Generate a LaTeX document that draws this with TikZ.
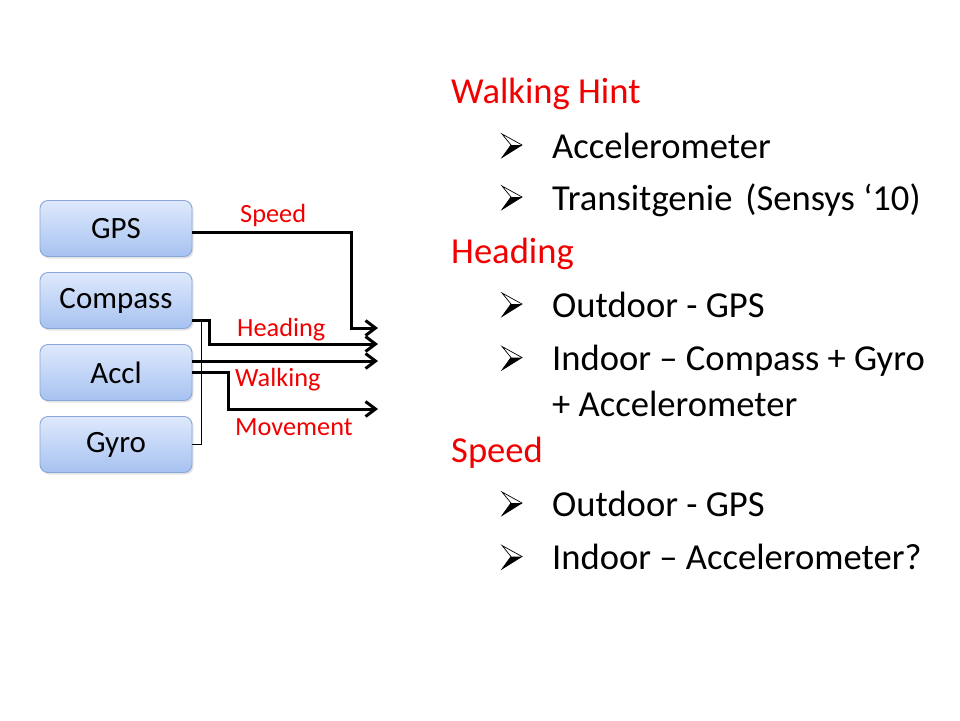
\documentclass[tikz,border=0pt]{standalone}
\usepackage{fontspec}
\setmainfont{Carlito}
\usetikzlibrary{arrows.meta,shadows}
\definecolor{boxtop}{HTML}{DFE9FC}
\definecolor{boxbot}{HTML}{A6C2F1}
\definecolor{boxline}{HTML}{8AA6DA}
\definecolor{hdred}{HTML}{F00000}
\tikzset{
  sensor/.style={draw=boxline, line width=0.9pt, rounded corners=8pt,
    top color=boxtop, bottom color=boxbot, minimum width=152pt,
    minimum height=56pt, inner sep=0pt, font=\fontsize{31}{36}\selectfont,
    drop shadow={opacity=0.22, shadow xshift=1.5pt, shadow yshift=-2pt}},
  conn/.style={line width=3pt, -{Straight Barb[length=10pt,width=15pt]}},
  thinconn/.style={line width=1pt},
  lbl/.style={anchor=base west, inner sep=0pt, text=hdred, font=\fontsize{26.3}{30}\selectfont},
  hd/.style={anchor=base west, inner sep=0pt, text=hdred, font=\fontsize{36.6}{42}\selectfont},
  itm/.style={anchor=base west, inner sep=0pt, font=\fontsize{36.6}{42}\selectfont},
  bulletarrow/.pic={
    \fill[white] (0,-24) -- (20,-13) -- (9,-13) -- cycle;
    \fill[black] (0,-0.5) -- (20,-13) -- (9,-13) -- cycle;
    \draw[line width=0.7pt, line join=miter] (0,-24) -- (20,-13) -- (0,-0.5) -- (9,-13) -- cycle;
  }
}
\begin{document}
\begin{tikzpicture}[x=1pt,y=-1pt]
\path[use as bounding box, fill=white] (0,0) rectangle (960,720);

% sensor boxes
\node[sensor] (gps)  at (116,228.5) {GPS};
\node[sensor] (comp) at (116,300.5) {Compass};
\node[sensor] (accl) at (116,372.5) {Accl};
\node[sensor] (gyro) at (116,444.5) {Gyro};

% arrow ends
\coordinate (e1) at (378,328);
\coordinate (e2) at (378,344);
\coordinate (e3) at (378,361);
\coordinate (e4) at (378,409);

% connectors
\draw[thinconn] (gyro.east) -- ++(9,0) -- ++(0,-124.5);
\draw[conn] ([yshift=-3.5pt]gps.east) -- ++(159,0) |- (e1);
\draw[conn] ([yshift=-19.5pt]comp.east) -- ++(17,0) |- (e2);
\draw[conn] ([yshift=11.5pt]accl.east) -- (e3);
\draw[conn] (accl.east) -- ++(36,0) |- (e4);

% connector labels
\node[lbl] (lspeed) at (240,222) {Speed};
\node[lbl] (lhead)  at (237,336) {Heading};
\node[lbl] (lwalk)  at (235,386) {Walking};
\node[lbl] (lmove)  at (235,435) {Movement};

% right-hand text
\node[hd] (h1) at (451,103) {Walking Hint};
\pic at (502,158) {bulletarrow};
\node[itm] (t1) at (552,158) {Accelerometer};
\pic at (502,210) {bulletarrow};
\node[itm] (t2) at (552,210) {Transitgenie\hspace{13pt}(Sensys ‘10)};

\node[hd] (h2) at (451,263) {Heading};
\pic at (502,317) {bulletarrow};
\node[itm] (t3) at (552,317) {Outdoor - GPS};
\pic at (502,370.5) {bulletarrow};
\node[itm] (t4) at (552,370.5) {Indoor – Compass + Gyro};
\node[itm] (t5) at (552,416) {+ Accelerometer};

\node[hd] (h3) at (451,462) {Speed};
\pic at (502,516) {bulletarrow};
\node[itm] (t6) at (552,516) {Outdoor - GPS};
\pic at (502,569.5) {bulletarrow};
\node[itm] (t7) at (552,569.5) {Indoor – Accelerometer?};
\end{tikzpicture}
\end{document}
